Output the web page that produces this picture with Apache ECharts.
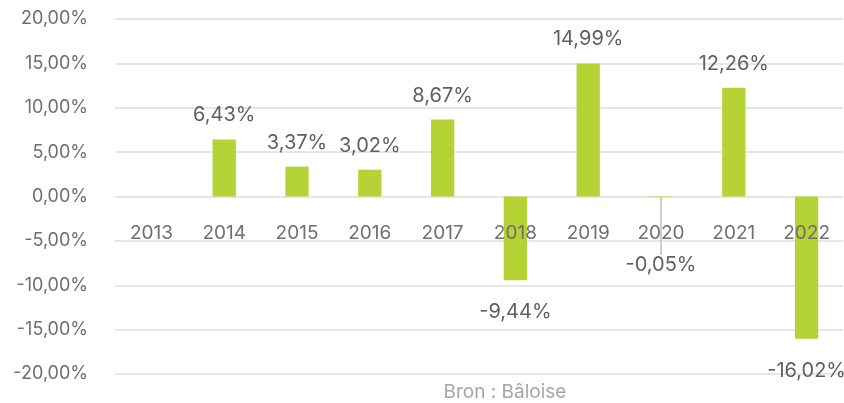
<!DOCTYPE html>
<html>
<head>
<meta charset="utf-8">
<script src="https://cdn.jsdelivr.net/npm/echarts@6/dist/echarts.min.js"></script>
<style>
  html, body { margin: 0; padding: 0; background: #fff; }
  #chart { width: 844px; height: 403px; }
</style>
</head>
<body>
<div id="chart"></div>
<script>
const years = ['2013', '2014', '2015', '2016', '2017', '2018', '2019', '2020', '2021', '2022'];
const returns = [null, 6.43, 3.37, 3.02, 8.67, -9.44, 14.99, -0.05, 12.26, -16.02];
const yTicks = [-20, -15, -10, -5, 0, 5, 10, 15, 20];

const pct = (v, d) => v.toFixed(d).replace('.', ',') + '%';
const font = 'Inter, "Noto Sans", sans-serif';

const barData = returns.map((v, i) => {
  const item = { value: v };
  if (v !== null && v < 0) {
    item.label = { position: 'bottom', distance: 22 };
  }
  if (years[i] === '2020') {
    item.label = { position: 'bottom', distance: 4 };
    item.labelLine = { show: true, lineStyle: { color: '#bdbdbd', width: 1.5 } };
  }
  return item;
});

const chart = echarts.init(document.getElementById('chart'));
chart.setOption({
  animation: false,
  grid: { left: 115, right: 1, top: 19, bottom: 29, outerBoundsMode: 'none', containLabel: false },
  xAxis: {
    type: 'category',
    data: years,
    offset: -177.5,
    z: 5,
    axisLine: { show: false, onZero: false },
    axisTick: { show: false },
    axisLabel: { color: '#6f6f6f', fontSize: 19, fontFamily: font, margin: 27 }
  },
  yAxis: {
    type: 'value',
    min: yTicks[0],
    max: yTicks[yTicks.length - 1],
    interval: 5,
    axisLabel: {
      color: '#6f6f6f', fontSize: 18, fontFamily: font, margin: 27,
      formatter: v => pct(v, 2)
    },
    splitLine: { lineStyle: { color: '#dedede', width: 1.5 } }
  },
  series: [{
    type: 'bar',
    data: barData,
    barWidth: '32%',
    itemStyle: { color: '#b5d334' },
    label: {
      show: true,
      position: 'top',
      distance: 14,
      color: '#5f5f5f',
      fontSize: 20,
      fontFamily: font,
      formatter: p => p.value === null ? '' : pct(p.value, 2)
    },
    labelLayout: p => (years[p.dataIndex] === '2020' ? { dy: 54 } : {})
  }],
  graphic: [{
    type: 'text',
    x: 505,
    y: 392,
    style: {
      text: 'Bron : Bâloise', fill: '#a6a6a6', fontSize: 19, fontFamily: font,
      align: 'center', verticalAlign: 'middle'
    }
  }]
});
</script>
</body>
</html>
